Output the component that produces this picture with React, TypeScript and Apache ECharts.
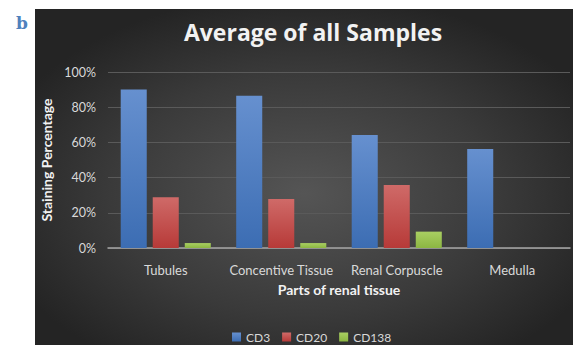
import React, { useEffect, useRef } from "react";
import * as echarts from "echarts";

const categories = ["Tubules", "Concentive Tissue", "Renal Corpuscle", "Medulla"];
const cd3 = [90, 86.5, 64.2, 56.3];
const cd20 = [28.8, 27.8, 35.8, 0];
const cd138 = [2.8, 2.8, 9.3, 0];
const yTicks = [0, 20, 40, 60, 80, 100];

const grad = (top: string, bottom: string) =>
  new echarts.graphic.LinearGradient(0, 0, 0, 1, [
    { offset: 0, color: top },
    { offset: 1, color: bottom },
  ]);

export default function App() {
  const ref = useRef<HTMLDivElement>(null);
  useEffect(() => {
    if (!ref.current) return;
    const chart = echarts.init(ref.current, undefined, { renderer: "svg" });
    const font = "Lato, 'Open Sans', sans-serif";
    chart.setOption({
      animation: false,
      backgroundColor: "#ffffff",
      textStyle: { fontFamily: font },
      graphic: [
        {
          type: "rect",
          z: -10,
          silent: true,
          shape: { x: 35, y: 9, width: 538, height: 336 },
          style: {
            fill: new echarts.graphic.RadialGradient(0.5, 0.55, 0.6, [
              { offset: 0, color: "#555555" },
              { offset: 0.6, color: "#3a3a3a" },
              { offset: 1, color: "#242424" },
            ]),
          },
        },
        {
          type: "text",
          left: 16,
          top: 14,
          style: {
            text: "b",
            fill: "#4f81bd",
            font: "bold 17px 'DejaVu Serif', 'Liberation Serif', serif",
          },
        },
      ],
      title: {
        text: "Average of all Samples",
        left: 308,
        textAlign: "center",
        top: 15,
        textStyle: {
          color: "#f2f2f2",
          fontSize: 23,
          fontWeight: "bold",
          fontFamily: "'Open Sans', sans-serif",
        },
      },
      legend: {
        bottom: 2,
        left: 232,
        padding: 0,
        itemWidth: 9,
        itemHeight: 9,
        itemGap: 12,
        icon: "rect",
        textStyle: { color: "#d9d9d9", fontSize: 12, fontFamily: font },
        data: ["CD3", "CD20", "CD138"],
      },
      grid: { left: 108, right: 3, top: 72, bottom: 97 },
      xAxis: {
        type: "category",
        data: categories,
        name: "Parts of renal tissue",
        nameLocation: "middle",
        nameGap: 34,
        nameTextStyle: { color: "#f2f2f2", fontSize: 14, fontWeight: "bold", fontFamily: font },
        axisLine: { lineStyle: { color: "#a6a6a6", width: 1.5 } },
        axisTick: { show: false },
        axisLabel: { color: "#d9d9d9", fontSize: 13, margin: 15, interval: 0, fontFamily: font },
      },
      yAxis: {
        type: "value",
        min: 0,
        max: 100,
        interval: 20,
        name: "Staining Percentage",
        nameLocation: "middle",
        nameGap: 43,
        nameTextStyle: { color: "#f2f2f2", fontSize: 14, fontWeight: "bold", fontFamily: font },
        axisLine: { show: false },
        axisTick: { show: false },
        splitLine: { lineStyle: { color: "#5a5a5a", width: 1 } },
        axisLabel: {
          color: "#d9d9d9",
          fontSize: 12.5,
          margin: 12,
          fontFamily: font,
          formatter: (v: number) => (yTicks.includes(v) ? v + "%" : ""),
        },
      },
      series: [
        {
          name: "CD3",
          type: "bar",
          data: cd3,
          barGap: "23%",
          barCategoryGap: "22%",
          itemStyle: { color: grad("#6690cf", "#3c6db3") },
        },
        {
          name: "CD20",
          type: "bar",
          data: cd20,
          itemStyle: { color: grad("#cf6a68", "#b73a38") },
        },
        {
          name: "CD138",
          type: "bar",
          data: cd138,
          itemStyle: { color: grad("#a9cf62", "#8cb642") },
        },
      ],
    });
    return () => chart.dispose();
  }, []);
  return (
    <div
      ref={ref}
      style={{ position: "fixed", left: 0, top: 0, width: 573, height: 345 }}
    />
  );
}
